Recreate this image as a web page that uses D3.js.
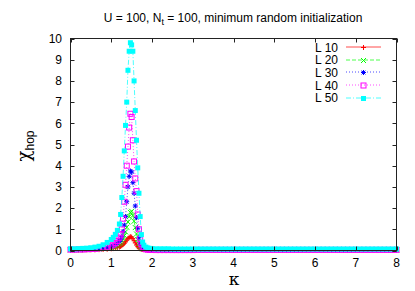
<!DOCTYPE html>
<html><head><meta charset="utf-8">
<script src="https://cdn.jsdelivr.net/npm/d3@7"></script>
<style>body{margin:0;background:#fff}svg{display:block;font-family:"Liberation Sans",Arial,sans-serif}</style>
</head><body><svg id="c" width="415" height="291"></svg>
<script>
// ---- data ----
const kappaCore = [0,0.1,0.2,0.3,0.4,0.5,0.6,0.7,0.8,0.9,1.0,1.05,1.1,1.15,1.2,1.23,1.26,1.29,1.32,1.35,1.38,1.41,1.44,1.47,1.5,1.53,1.56,1.59,1.62,1.65,1.68,1.71,1.74,1.77,1.8,1.85,1.9,1.95,2.0];
const kappaTail = [2.1,2.2,2.3,2.4,2.5,2.6,2.7,2.8,2.9,3.0,3.1,3.2,3.3,3.4,3.5,3.6,3.7,3.8,3.9,4.0,4.1,4.2,4.3,4.4,4.5,4.6,4.7,4.8,4.9,5.0,5.1,5.2,5.3,5.4,5.5,5.6,5.7,5.8,5.9,6.0,6.1,6.2,6.3,6.4,6.5,6.6,6.7,6.8,6.9,7.0,7.1,7.2,7.3,7.4,7.5,7.6,7.7,7.8,7.9,8.0];

const coreL10 = [0.02,0.02,0.02,0.02,0.03,0.03,0.03,0.04,0.05,0.06,0.08,0.09,0.11,0.13,0.16,0.19,0.23,0.28,0.34,0.41,0.49,0.56,0.62,0.65,0.63,0.56,0.46,0.36,0.26,0.18,0.12,0.08,0.06,0.05,0.04,0.03,0.03,0.03,0.02];
const coreL20 = [0.03,0.03,0.03,0.04,0.04,0.05,0.06,0.07,0.09,0.11,0.14,0.17,0.2,0.25,0.31,0.37,0.45,0.56,0.7,0.88,1.1,1.35,1.6,1.8,1.85,1.65,1.38,1.08,0.78,0.52,0.32,0.2,0.13,0.09,0.07,0.05,0.04,0.04,0.03];
const coreL30 = [0.03,0.03,0.04,0.04,0.05,0.06,0.07,0.09,0.11,0.14,0.18,0.22,0.27,0.34,0.43,0.52,0.66,0.9,1.2,1.6,2.3,3.0,3.5,3.75,3.7,3.2,2.7,2.1,1.55,1.05,0.6,0.34,0.2,0.13,0.09,0.06,0.05,0.04,0.04];
const coreL40 = [0.04,0.04,0.05,0.05,0.06,0.07,0.08,0.1,0.13,0.17,0.23,0.28,0.35,0.45,0.6,0.75,1.0,1.5,2.3,3.1,4.0,4.9,5.8,6.45,6.3,5.2,4.2,3.4,2.8,1.7,1.0,0.55,0.3,0.17,0.1,0.06,0.04,0.03,0.03];
const coreL50 = [0.08,0.08,0.09,0.1,0.11,0.13,0.16,0.2,0.27,0.38,0.52,0.62,0.76,0.95,1.25,1.7,2.5,3.5,4.7,5.9,7.0,8.5,9.4,9.8,9.7,9.4,8.0,6.6,5.2,3.9,2.7,1.6,0.75,0.4,0.25,0.16,0.12,0.1,0.09];

const tailL10 = [0.02,0.02,0.02,0.02,0.02,0.02,0.02,0.02,0.02,0.02,0.02,0.02,0.02,0.02,0.02,0.02,0.02,0.02,0.02,0.02,0.02,0.02,0.02,0.02,0.02,0.02,0.02,0.02,0.02,0.02,0.02,0.02,0.02,0.02,0.02,0.02,0.02,0.02,0.02,0.02,0.02,0.02,0.02,0.02,0.02,0.02,0.02,0.02,0.02,0.02,0.02,0.02,0.02,0.02,0.02,0.02,0.02,0.02,0.02,0.02];
const tailL20 = [0.03,0.03,0.03,0.03,0.03,0.03,0.03,0.03,0.03,0.03,0.03,0.03,0.03,0.03,0.03,0.03,0.03,0.03,0.03,0.03,0.03,0.03,0.03,0.03,0.03,0.03,0.03,0.03,0.03,0.03,0.03,0.03,0.03,0.03,0.03,0.03,0.03,0.03,0.03,0.03,0.03,0.03,0.03,0.03,0.03,0.03,0.03,0.03,0.03,0.03,0.03,0.03,0.03,0.03,0.03,0.03,0.03,0.03,0.03,0.03];
const tailL30 = [0.04,0.04,0.03,0.03,0.03,0.03,0.03,0.03,0.03,0.03,0.03,0.03,0.03,0.03,0.03,0.03,0.03,0.03,0.03,0.03,0.03,0.03,0.03,0.03,0.03,0.03,0.03,0.03,0.03,0.03,0.03,0.03,0.03,0.03,0.03,0.03,0.03,0.03,0.03,0.03,0.03,0.03,0.03,0.03,0.03,0.03,0.03,0.03,0.03,0.03,0.03,0.03,0.03,0.03,0.03,0.03,0.03,0.03,0.03,0.03];
const tailL40 = [0.02,0.02,0.02,0.02,0.02,0.02,0.02,0.02,0.02,0.02,0.03,0.03,0.03,0.03,0.03,0.03,0.03,0.03,0.03,0.03,0.03,0.03,0.03,0.03,0.03,0.03,0.03,0.03,0.03,0.03,0.03,0.03,0.03,0.03,0.03,0.03,0.03,0.03,0.03,0.03,0.03,0.03,0.03,0.03,0.03,0.03,0.03,0.03,0.03,0.03,0.03,0.03,0.03,0.03,0.03,0.03,0.03,0.03,0.03,0.03];
const tailL50 = [0.08,0.08,0.08,0.08,0.07,0.07,0.07,0.07,0.07,0.07,0.07,0.07,0.07,0.07,0.07,0.07,0.07,0.07,0.07,0.07,0.07,0.07,0.07,0.07,0.07,0.07,0.07,0.07,0.07,0.07,0.07,0.07,0.07,0.07,0.07,0.07,0.07,0.07,0.07,0.07,0.07,0.07,0.07,0.07,0.07,0.07,0.07,0.07,0.07,0.07,0.07,0.07,0.07,0.07,0.07,0.07,0.07,0.07,0.07,0.07];

const seriesNames = ["L 10","L 20","L 30","L 40","L 50"];
const xTicks = [0,1,2,3,4,5,6,7,8];
const yTicks = [0,1,2,3,4,5,6,7,8,9,10];

// ---- build ----
const kappa = kappaCore.concat(kappaTail);
const seriesVals = [coreL10.concat(tailL10), coreL20.concat(tailL20), coreL30.concat(tailL30), coreL40.concat(tailL40), coreL50.concat(tailL50)];
const styles = [
  {color:"#ff0000", dash:null, marker:"plus"},
  {color:"#00ff00", dash:"4,2", marker:"cross"},
  {color:"#0000ff", dash:"1,2", marker:"star"},
  {color:"#ff00ff", dash:"1,2", marker:"osquare"},
  {color:"#00ffff", dash:"5,2,1,2", marker:"fsquare"}
];

const m = {l:70.5, r:396.5, t:38.5, b:250.5};
const svg = d3.select("#c");
const x = d3.scaleLinear().domain([0,8]).range([m.l, m.r]);
const y = d3.scaleLinear().domain([0,10]).range([m.b, m.t]);

function marker(g, type, cx, cy, color){
  const s = 2.5;
  if(type==="plus"){
    g.append("path").attr("d",`M${cx-s},${cy}H${cx+s}M${cx},${cy-s}V${cy+s}`).attr("stroke",color).attr("stroke-width",1).attr("fill","none");
  } else if(type==="cross"){
    g.append("path").attr("d",`M${cx-s},${cy-s}L${cx+s},${cy+s}M${cx-s},${cy+s}L${cx+s},${cy-s}`).attr("stroke",color).attr("stroke-width",1).attr("fill","none");
  } else if(type==="star"){
    g.append("path").attr("d",`M${cx-s},${cy}H${cx+s}M${cx},${cy-s}V${cy+s}M${cx-s*0.75},${cy-s*0.75}L${cx+s*0.75},${cy+s*0.75}M${cx-s*0.75},${cy+s*0.75}L${cx+s*0.75},${cy-s*0.75}`).attr("stroke",color).attr("stroke-width",1).attr("fill","none");
  } else if(type==="osquare"){
    g.append("rect").attr("x",cx-s).attr("y",cy-s).attr("width",2*s).attr("height",2*s).attr("fill","none").attr("stroke",color).attr("stroke-width",1);
  } else {
    g.append("rect").attr("x",cx-s).attr("y",cy-s).attr("width",2*s).attr("height",2*s).attr("fill",color);
  }
}

// data
const line = d3.line().x(d=>x(d[0])).y(d=>y(d[1]));
const plot = svg.append("g");
seriesVals.forEach((vals,i)=>{
  const st = styles[i];
  const pts = kappa.map((k,j)=>[k, vals[j]]);
  const g = plot.append("g");
  g.append("path").datum(pts).attr("d",line).attr("fill","none").attr("stroke",st.color).attr("stroke-width",1).attr("stroke-opacity",0.7).attr("stroke-dasharray",st.dash);
  pts.forEach(p=>marker(g, st.marker, x(p[0]), y(p[1]), st.color));
});

// frame
svg.append("rect").attr("x",m.l).attr("y",m.t).attr("width",m.r-m.l).attr("height",m.b-m.t).attr("fill","none").attr("stroke","#222").attr("stroke-width",1);

// ticks (inward, mirrored)
const tl = 4;
const tk = svg.append("g").attr("stroke","#222").attr("stroke-width",1);
xTicks.forEach(v=>{
  const xx = Math.round(x(v))+0.5;
  tk.append("line").attr("x1",xx).attr("x2",xx).attr("y1",m.b).attr("y2",m.b-tl);
  tk.append("line").attr("x1",xx).attr("x2",xx).attr("y1",m.t).attr("y2",m.t+tl);
  svg.append("text").attr("x",x(v)).attr("y",267).attr("text-anchor","middle").attr("font-size",12).attr("fill","#000").text(v);
});
yTicks.forEach(v=>{
  const yy = Math.round(y(v))+0.5;
  tk.append("line").attr("x1",m.l).attr("x2",m.l+tl).attr("y1",yy).attr("y2",yy);
  tk.append("line").attr("x1",m.r).attr("x2",m.r-tl).attr("y1",yy).attr("y2",yy);
  svg.append("text").attr("x",62).attr("y",y(v)+4.3).attr("text-anchor","end").attr("font-size",12).attr("fill","#000").text(v);
});

// title
const t = svg.append("text").attr("x",233).attr("y",22).attr("text-anchor","middle").attr("font-size",12).attr("fill","#000");
t.append("tspan").text("U = 100, N");
t.append("tspan").attr("font-size",9).attr("dy",3).text("t");
t.append("tspan").attr("dy",-3).text(" = 100, minimum random initialization");

// x label
svg.append("text").attr("x",234).attr("y",285).attr("text-anchor","middle").attr("font-size",17).attr("font-family","DejaVu Serif").attr("fill","#000").text("κ");

// y label
const yl = svg.append("text").attr("transform","translate(30,146) rotate(-90)").attr("text-anchor","middle").attr("fill","#000");
yl.append("tspan").attr("font-size",18).attr("font-family","DejaVu Serif").text("χ");
yl.append("tspan").attr("font-size",12).attr("dy",4).text("hop");

// legend
const lg = svg.append("g");
seriesNames.forEach((nm,i)=>{
  const ly = 47 + i*12.7;
  const st = styles[i];
  lg.append("text").attr("x",338).attr("y",ly+4.5).attr("text-anchor","end").attr("font-size",12).attr("fill","#000").text(nm);
  lg.append("line").attr("x1",346).attr("x2",381).attr("y1",Math.round(ly)).attr("y2",Math.round(ly)).attr("stroke",st.color).attr("stroke-opacity",0.7).attr("stroke-width",1).attr("stroke-dasharray",st.dash);
  marker(lg, st.marker, 363.5, Math.round(ly)+0.5, st.color);
});
</script></body></html>
